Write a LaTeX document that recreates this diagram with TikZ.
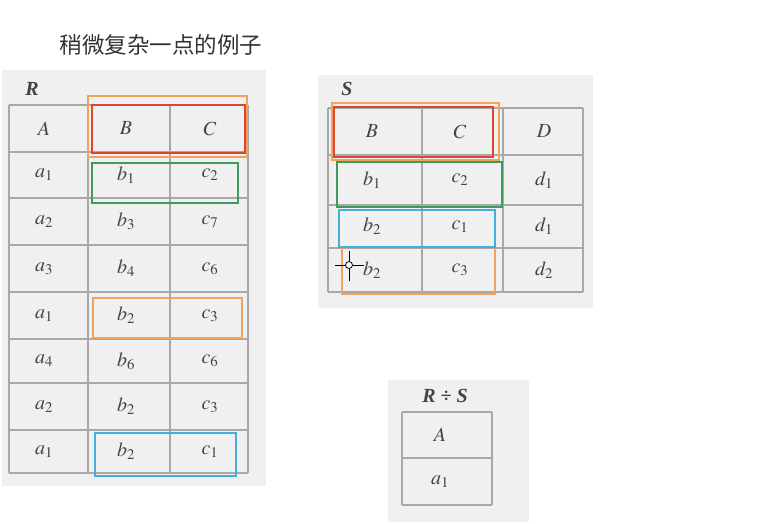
\documentclass[tikz,border=0pt]{standalone}
\usepackage{mathptmx}
\usepackage{fontspec}
\newfontfamily\cjk{Noto Sans CJK SC}
\newfontfamily\tabfont{Liberation Serif}
\definecolor{panelgray}{HTML}{F0F0F0}
\definecolor{gridgray}{HTML}{A8A8A8}
\definecolor{inkgray}{HTML}{444444}
\definecolor{markorange}{HTML}{F0A35A}
\definecolor{markred}{HTML}{E0452E}
\definecolor{markgreen}{HTML}{3E9A5E}
\definecolor{markblue}{HTML}{45AEDC}
\tikzset{
  panel/.style={fill=panelgray, draw=none},
  gridline/.style={gridgray, line width=1.2pt},
  cell/.style={text=inkgray, font=\fontsize{20}{22}\selectfont},
  tablabel/.style={text=inkgray, font=\fontsize{20}{22}\selectfont\tabfont\bfseries\itshape},
  markbox/.style={line width=1.3pt}
}
\begin{document}
\begin{tikzpicture}[x=1pt, y=-1pt]
    \useasboundingbox[fill=white] (0, 0) rectangle (766, 523);
    \node[text=black!80, font=\fontsize{22.5}{26}\selectfont\cjk] (title) at (161, 45) {稍微复杂一点的例子};
    % scanned pages
    \fill[panel] (2, 70) rectangle (266, 486);
    \fill[panel] (318, 75) rectangle (593, 308);
    \fill[panel] (388, 380) rectangle (529, 522);
    % table R
    \node[tablabel] (rname) at (32, 89) {R};
    \foreach \y in {105, 152, 198, 245, 292, 339, 383, 430, 473}
        \draw[gridline] (9, \y) -- (248, \y);
    \foreach \x in {9, 88, 170, 248}
        \draw[gridline] (\x, 105) -- (\x, 473);
    \foreach \y/\a/\b/\c [count=\i] in {128.5/A/B/C, 175/a_1/b_1/c_2, 221.5/a_2/b_3/c_7, 268.5/a_3/b_4/c_6, 315.5/a_1/b_2/c_3, 361/a_4/b_6/c_6, 406.5/a_2/b_2/c_3, 451.5/a_1/b_2/c_1} {
        \node[cell] (r\i a) at (44, \y) {$\a$};
        \node[cell] (r\i b) at (126, \y) {$\b$};
        \node[cell] (r\i c) at (210, \y) {$\c$};
    }
    % table S
    \node[tablabel] (sname) at (347, 89) {S};
    \foreach \y in {108, 155, 205, 248, 292}
        \draw[gridline] (328, \y) -- (583, \y);
    \foreach \x in {328, 422, 503, 583}
        \draw[gridline] (\x, 108) -- (\x, 292);
    \foreach \y/\b/\c/\d [count=\i] in {131.5/B/C/D, 180/b_1/c_2/d_1, 226.5/b_2/c_1/d_1, 270/b_2/c_3/d_2} {
        \node[cell] (s\i b) at (372, \y) {$\b$};
        \node[cell] (s\i c) at (460, \y) {$\c$};
        \node[cell] (s\i d) at (544, \y) {$\d$};
    }
    % table R / S
    \node[tablabel] (qname) at (445, 396) {R ÷ S};
    \foreach \y in {412, 458, 505}
        \draw[gridline] (402, \y) -- (492, \y);
    \foreach \x in {402, 492}
        \draw[gridline] (\x, 412) -- (\x, 505);
    \node[cell] (q1) at (440, 435) {$A$};
    \node[cell] (q2) at (440, 481.5) {$a_1$};
    % marks on R
    \draw[markbox, markorange] (88, 96) rectangle (247, 157);
    \draw[markbox, markred, line width=1.8pt] (92, 105) rectangle (245, 153);
    \draw[markbox, markgreen] (92, 163) rectangle (238, 203);
    \draw[markbox, markorange] (93, 298) rectangle (242, 338);
    \draw[markbox, markblue] (95, 433) rectangle (236, 476);
    % marks on S
    \draw[markbox, markorange] (332, 103) rectangle (499, 160);
    \draw[markbox, markred, line width=1.8pt] (334, 107) rectangle (493, 157);
    \draw[markbox, markgreen] (337, 162) rectangle (502, 207);
    \draw[markbox, markorange] (342, 247) rectangle (495, 294);
    \draw[markbox, markblue] (339, 210) rectangle (495, 247);
    % cursor
    \draw[black, line width=0.8pt] (349, 251) -- (349, 281);
    \draw[black, line width=0.8pt] (335, 265) -- (364, 265);
    \draw[black, fill=white, line width=0.8pt] (349, 265) circle (3.5);
\end{tikzpicture}
\end{document}
